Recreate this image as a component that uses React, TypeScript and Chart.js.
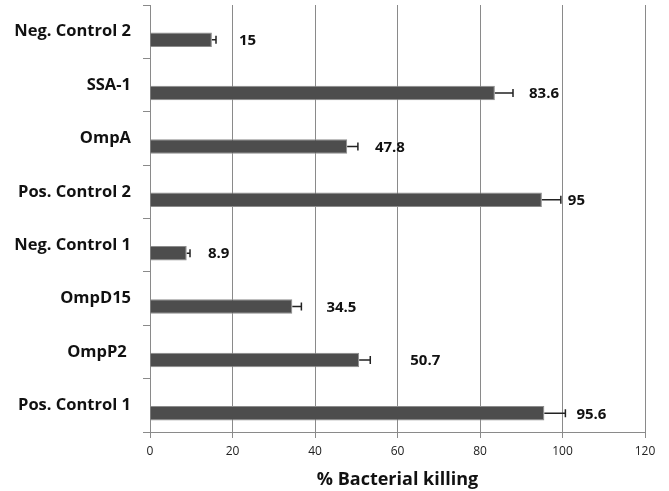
import React, { useEffect, useRef } from "react";
import { Chart, registerables } from "chart.js";

Chart.register(...registerables);

const categories = [
  "Neg. Control 2",
  "SSA-1",
  "OmpA",
  "Pos. Control 2",
  "Neg. Control 1",
  "OmpD15",
  "OmpP2 ",
  "Pos. Control 1",
];
const killing = [15, 83.6, 47.8, 95, 8.9, 34.5, 50.7, 95.6];
const errors = [1, 4.4, 2.6, 4.6, 0.8, 2.2, 2.7, 5.1];
const valueLabels = ["15", "83.6", "47.8", "95", "8.9", "34.5", "50.7", "95.6"];
const emptySeries: number[] = [];
const xTicks = [0, 20, 40, 60, 80, 100, 120];

const FONT = "'Open Sans', 'Noto Sans', sans-serif";

export default function App() {
  const ref = useRef<HTMLCanvasElement>(null);
  useEffect(() => {
    document.body.style.margin = "0";
    const labelGaps = [23, 16, 17, 7, 18, 25, 40, 11];
    const errPlugin = {
      id: "errAndLabels",
      afterDatasetsDraw(chart: any) {
        const ctx = chart.ctx;
        const meta = chart.getDatasetMeta(1);
        const xs = chart.scales.x;
        ctx.save();
        meta.data.forEach((bar: any, i: number) => {
          const x0 = bar.x;
          const x1 = xs.getPixelForValue(killing[i] + errors[i]);
          const y = bar.y;
          ctx.strokeStyle = "#222";
          ctx.lineWidth = 1.5;
          ctx.beginPath();
          ctx.moveTo(x0, y);
          ctx.lineTo(x1, y);
          ctx.moveTo(x1, y - 4);
          ctx.lineTo(x1, y + 4);
          ctx.stroke();
          ctx.fillStyle = "#111";
          ctx.font = `bold 15px ${FONT}`;
          ctx.textAlign = "left";
          ctx.textBaseline = "middle";
          ctx.fillText(valueLabels[i], x1 + labelGaps[i], y + 1);
        });
        ctx.restore();
      },
    };
    const chart = new Chart(ref.current!, {
      type: "bar",
      data: {
        labels: categories,
        datasets: [
          {
            data: emptySeries,
            backgroundColor: "#4d4d4d",
          },
          {
            data: killing,
            backgroundColor: "#4d4d4d",
            borderColor: "#8c8c8c",
            borderWidth: 1,
          },
        ],
      },
      options: {
        indexAxis: "y",
        animation: false,
        responsive: false,
        datasets: { bar: { categoryPercentage: 0.6, barPercentage: 0.9 } },
        layout: { padding: { top: 5, right: 24, left: 0, bottom: 0 } },
        plugins: { legend: { display: false }, tooltip: { enabled: false } },
        scales: {
          x: {
            min: 0,
            max: 120,
            afterBuildTicks(axis: any) {
              axis.ticks = xTicks.map((v) => ({ value: v }));
            },
            afterFit(axis: any) {
              axis.height = 59;
            },
            grid: {
              color: "#8a8a8a",
              lineWidth: 1,
              drawTicks: true,
              tickLength: 6,
              tickColor: "#8a8a8a",
            },
            border: { color: "#8a8a8a" },
            ticks: {
              color: "#222",
              font: { family: FONT, size: 12 },
              padding: 6,
            },
            title: {
              display: true,
              text: "% Bacterial killing",
              color: "#111",
              font: { family: FONT, size: 18, weight: "bold" },
              padding: { top: 2, bottom: 0 },
            },
          },
          y: {
            afterFit(axis: any) {
              axis.width = 150;
              axis.paddingTop = 0;
              axis.paddingBottom = 0;
            },
            grid: {
              drawOnChartArea: false,
              drawTicks: true,
              tickLength: 7,
              tickColor: "#8a8a8a",
              offset: true,
            },
            border: { color: "#8a8a8a" },
            ticks: {
              color: "#111",
              font: { family: FONT, size: 16.5, weight: "bold" },
              padding: 12,
            },
          },
        },
      },
      plugins: [errPlugin],
    });
    return () => chart.destroy();
  }, []);
  return <canvas ref={ref} width={669} height={491} />;
}
